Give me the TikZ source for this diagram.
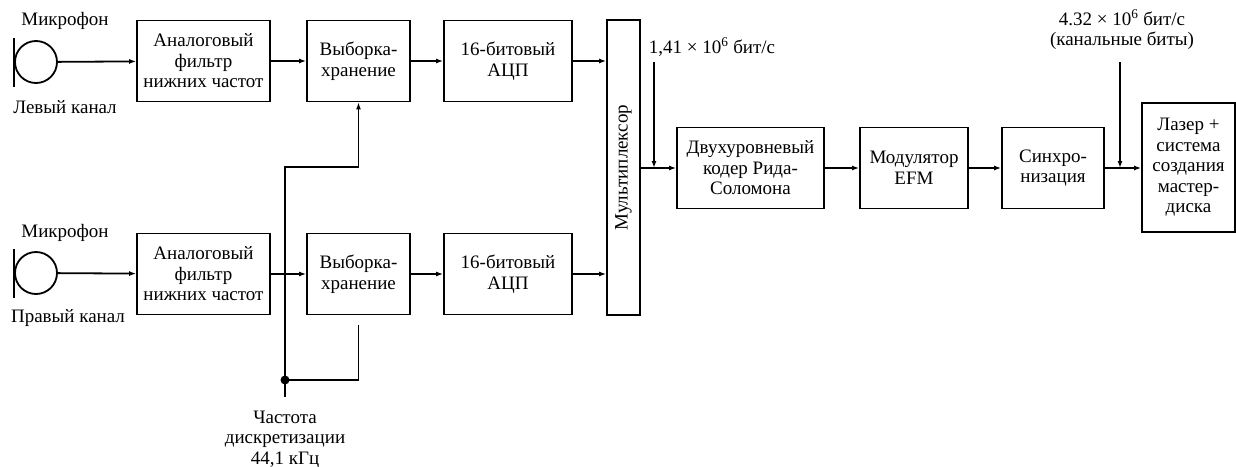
\documentclass[tikz,border=0pt]{standalone}
\usepackage{fontspec}
\setmainfont{Liberation Serif}
\usetikzlibrary{arrows.meta}
\newcommand{\txt}{\fontsize{19}{20.5}\selectfont}
\tikzset{
  blk/.style={draw, line width=1.8pt, align=center, inner sep=0pt, font=\txt},
  lbl/.style={align=center, inner sep=0pt, font=\txt},
  mic/.style={circle, draw, line width=1.8pt, minimum size=42pt, inner sep=0pt}
}

\begin{document}
\begin{tikzpicture}[x=1pt, y=-1pt, line width=1.8pt, >={Latex[length=7pt,width=5pt]}]
\useasboundingbox (0,0) rectangle (1236,466);

\begin{scope}[every node/.style={mic}]
  \node (micL) at (36,62) {};
  \node (micR) at (36,273) {};
\end{scope}
\draw (micL.west) ++(0,-24) -- ++(0,49);
\draw (micR.west) ++(0,-24) -- ++(0,49);

\begin{scope}[every node/.style={blk, minimum height=81pt}]
  \node[minimum width=133pt] (filtL) at (203.5,61) {Аналоговый\\фильтр\\нижних частот};
  \node[minimum width=133pt] (filtR) at (203.5,274) {Аналоговый\\фильтр\\нижних частот};
  \node[minimum width=103pt] (shL) at (358.5,61) {Выборка-\\хранение};
  \node[minimum width=103pt] (shR) at (358.5,274) {Выборка-\\хранение};
  \node[minimum width=128pt] (adcL) at (508,61) {16-битовый\\АЦП};
  \node[minimum width=128pt] (adcR) at (508,274) {16-битовый\\АЦП};
  \node[minimum width=33pt, minimum height=295pt] (mux) at (623.5,167.5) {};
  \node[minimum width=147pt] (rs) at (750.5,168) {Двухуровневый\\кодер Рида-\\Соломона};
  \node[minimum width=108pt] (efm) at (914,168) {Модулятор\\EFM};
  \node[minimum width=102pt] (sync) at (1053,168) {Синхро-\\низация};
  \node[minimum width=93pt, minimum height=129pt] (laser) at (1188.5,167.5) {Лазер +\\система\\создания\\мастер-\\диска};
\end{scope}
\node[lbl, rotate=90] (muxtxt) at (mux.center) {Мультиплексор};

\begin{scope}[every node/.style={lbl}]
  \node (micLtop) at (65,21) {Микрофон};
  \node (micLbot) at (65,107) {Левый канал};
  \node (micRtop) at (65,233) {Микрофон};
  \node (micRbot) at (68,318) {Правый канал};
  \node (rate1) at (712,47) {1,41 × 10\textsuperscript{6} бит/с};
  \node (rate2) at (1122,30) {4.32 × 10\textsuperscript{6} бит/с\\(канальные биты)};
  \node[anchor=north] (clklbl) at (285,410) {Частота\\дискретизации\\44,1 кГц};
\end{scope}

\coordinate (tap1) at (654,168);
\coordinate (in1) at (654,62);
\coordinate (tap2) at (1120,168);
\coordinate (in2) at (1120,62);
\coordinate (clk) at (285,397);
\coordinate (clkdot) at (285,380);
\coordinate (clkup) at (285,167);
\coordinate (clkend) at (358.5,325);

\path[->] (micL) edge (filtL);
\path[->] (micR) edge (filtR);
\path[->] (filtL) edge (shL);
\path[->] (filtR) edge (shR);
\path[->] (shL) edge (adcL);
\path[->] (shR) edge (adcR);
\path[->] (adcL) edge (adcL -| mux.west);
\path[->] (adcR) edge (adcR -| mux.west);
\path[->] (mux.east |- rs) edge (rs);
\path[->] (rs) edge (efm);
\path[->] (efm) edge (sync);
\path[->] (sync) edge (laser.west |- sync);
\path[->] (in1) edge (tap1);
\path[->] (in2) edge (tap2);

\draw[->] (clk) -- (clkup) -- (shL.south |- clkup) -- (shL.south);
\draw (clkdot) -- (clkend |- clkdot) -- (clkend);
\fill (clkdot) circle (4.5pt);

\end{tikzpicture}
\end{document}
